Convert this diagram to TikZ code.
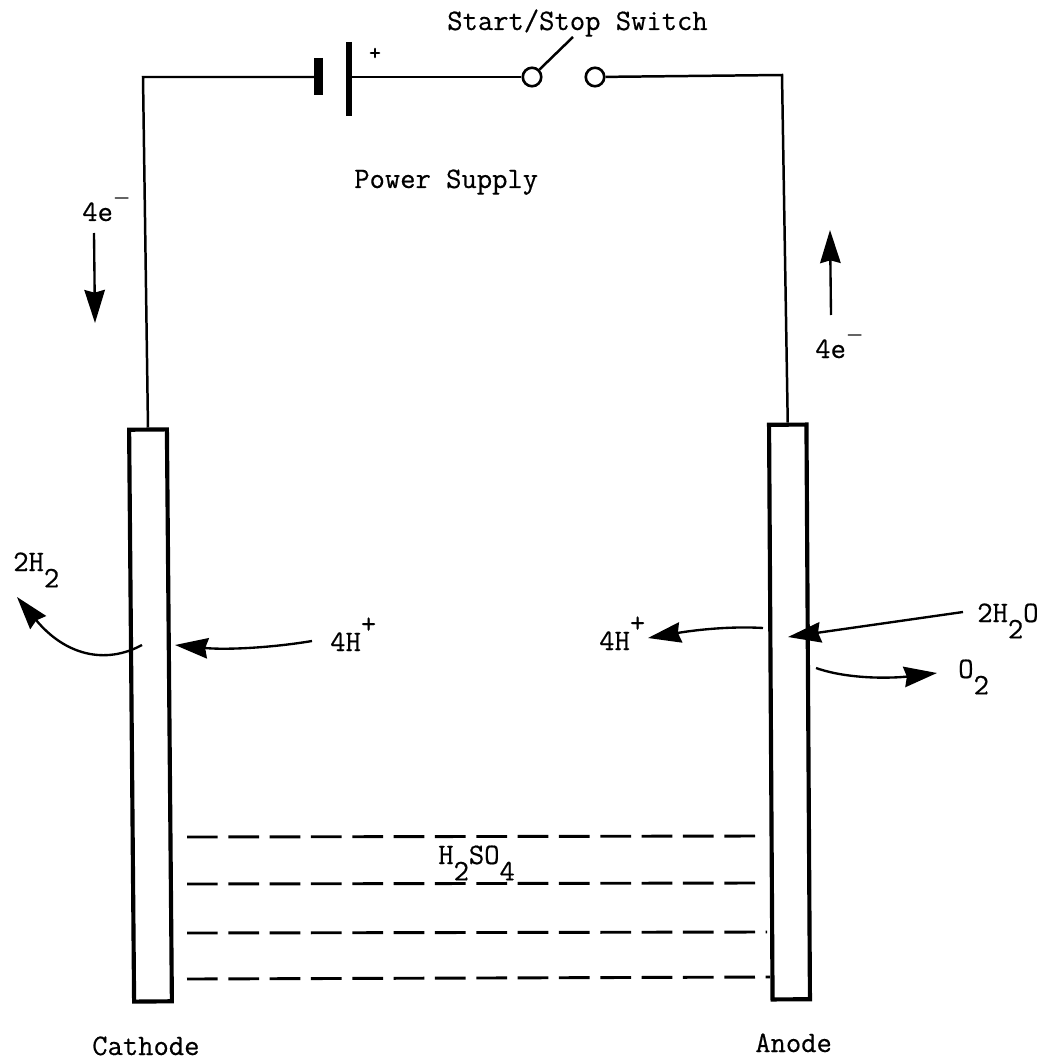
\documentclass[tikz,border=0pt]{standalone}
\usepackage{fontspec}
\newfontfamily\labelfont{Latin Modern Mono}[FakeBold=0.5]
\usetikzlibrary{arrows.meta,positioning}
\newcommand{\lowr}[1]{\raisebox{-0.55em}{#1}}
\newcommand{\upr}[1]{\raisebox{0.6em}{#1}}
\newcommand{\minusup}{\upr{\boldmath$\scriptstyle-$}}
\tikzset{
  wire/.style={draw=black, line width=1.8pt},
  electrode/.style={draw=black, line width=3pt, fill=white},
  flow/.style={draw=black, line width=1.7pt, -{Stealth[length=0.84cm,width=0.52cm,inset=0.07cm]}},
  level/.style={draw=black, line width=2.1pt, dash pattern=on 0.78cm off 0.27cm},
  lbl/.style={font=\labelfont\fontsize{21.5}{22}\selectfont, text=black, inner sep=0pt, anchor=base west},
  contact/.style={draw=black, line width=1.9pt, circle, fill=white, minimum size=0.47cm, inner sep=0pt}
}
\begin{document}
\begin{tikzpicture}[x=0.0254cm, y=-0.0254cm, >=Stealth]
  \useasboundingbox (0,0) rectangle (1042,1061);
  % Electrodes
  \node[electrode, minimum width=0.96cm, minimum height=14.53cm, rotate=0.5] (cathode) at (150.5,715.5) {};
  \node[electrode, minimum width=0.95cm, minimum height=14.6cm, rotate=0.35] (anode) at (789.5,712) {};
  % Circuit
  \coordinate (cathodecorner) at (143,77);
  \coordinate (anodecorner) at (782,75);
  \coordinate (battneg) at (318,77);
  \coordinate (battpos) at (349,77);
  \coordinate (armend) at (573,37);
  \node[contact] (swleft) at (532,77) {};
  \node[contact] (swright) at (595,77) {};
  \draw[wire] (cathode.north) -- (cathodecorner) -- (battneg);
  \draw[wire] (battpos) -- (swleft);
  \draw[wire] (swright) -- (anodecorner) -- (anode.north);
  \draw[wire] (swleft.45) -- (armend);
  \draw[draw=black, line width=6.5pt] (318,58) -- (318,95);
  \draw[draw=black, line width=4pt] (349,42) -- (349,116);
  \node[font=\labelfont\fontsize{17}{17}\selectfont, inner sep=0pt] (plus) at (375,54) {+};
  \node[lbl] (switch) at (447,30) {Start/Stop Switch};
  \node[lbl] (supply) at (354,188) {Power Supply};
  % Electron flow
  \node[lbl] (eleft) at (82,221) {4e\minusup};
  \coordinate (eleftstart) at (94,233);
  \coordinate (eleftend) at (95,323);
  \draw[flow] (eleftstart) -- (eleftend);
  \node[lbl] (eright) at (815,358) {4e\minusup};
  \coordinate (erightstart) at (831,315);
  \coordinate (erightend) at (830,230);
  \draw[flow] (erightstart) -- (erightend);
  % Reactions
  \node[lbl] (htwo) at (13,571) {2H\lowr{2}};
  \node[lbl] (hleft) at (330,651) {4H\upr{+}};
  \node[lbl] (hright) at (599,650) {4H\upr{+}};
  \node[lbl] (water) at (977,622) {2H\lowr{2}O};
  \node[lbl] (oxygen) at (958,678) {O\lowr{2}};
  \coordinate (htwostart) at (142,645);
  \coordinate (htwoend) at (17,597);
  \coordinate (hleftstart) at (312,641);
  \coordinate (hleftend) at (175,645);
  \coordinate (hrightstart) at (763,628);
  \coordinate (hrightend) at (648,638);
  \coordinate (waterstart) at (963,612);
  \coordinate (waterend) at (788,637);
  \coordinate (oxstart) at (816,668);
  \coordinate (oxend) at (937,673);
  \draw[flow] (htwostart) .. controls (105,665) and (65,655) .. (htwoend);
  \draw[flow] (hleftstart) .. controls (270,648) and (225,650) .. (hleftend);
  \draw[flow] (hrightstart) .. controls (730,626) and (695,630) .. (hrightend);
  \draw[flow] (waterstart) -- (waterend);
  \draw[flow] (oxstart) .. controls (850,680) and (895,678) .. (oxend);
  % Electrolyte
  \draw[level] (187,837) -- (762,836);
  \draw[level] (187,884) -- (758,883);
  \draw[level] (187,933) -- (767,932);
  \draw[level] (187,979) -- (770,977);
  \node[lbl] (acid) at (438,864) {H\lowr{2}SO\lowr{4}};
  % Electrode names
  \node[lbl] (cathodename) at (92,1055) {Cathode};
  \node[lbl] (anodename) at (755,1052) {Anode};
\end{tikzpicture}
\end{document}
